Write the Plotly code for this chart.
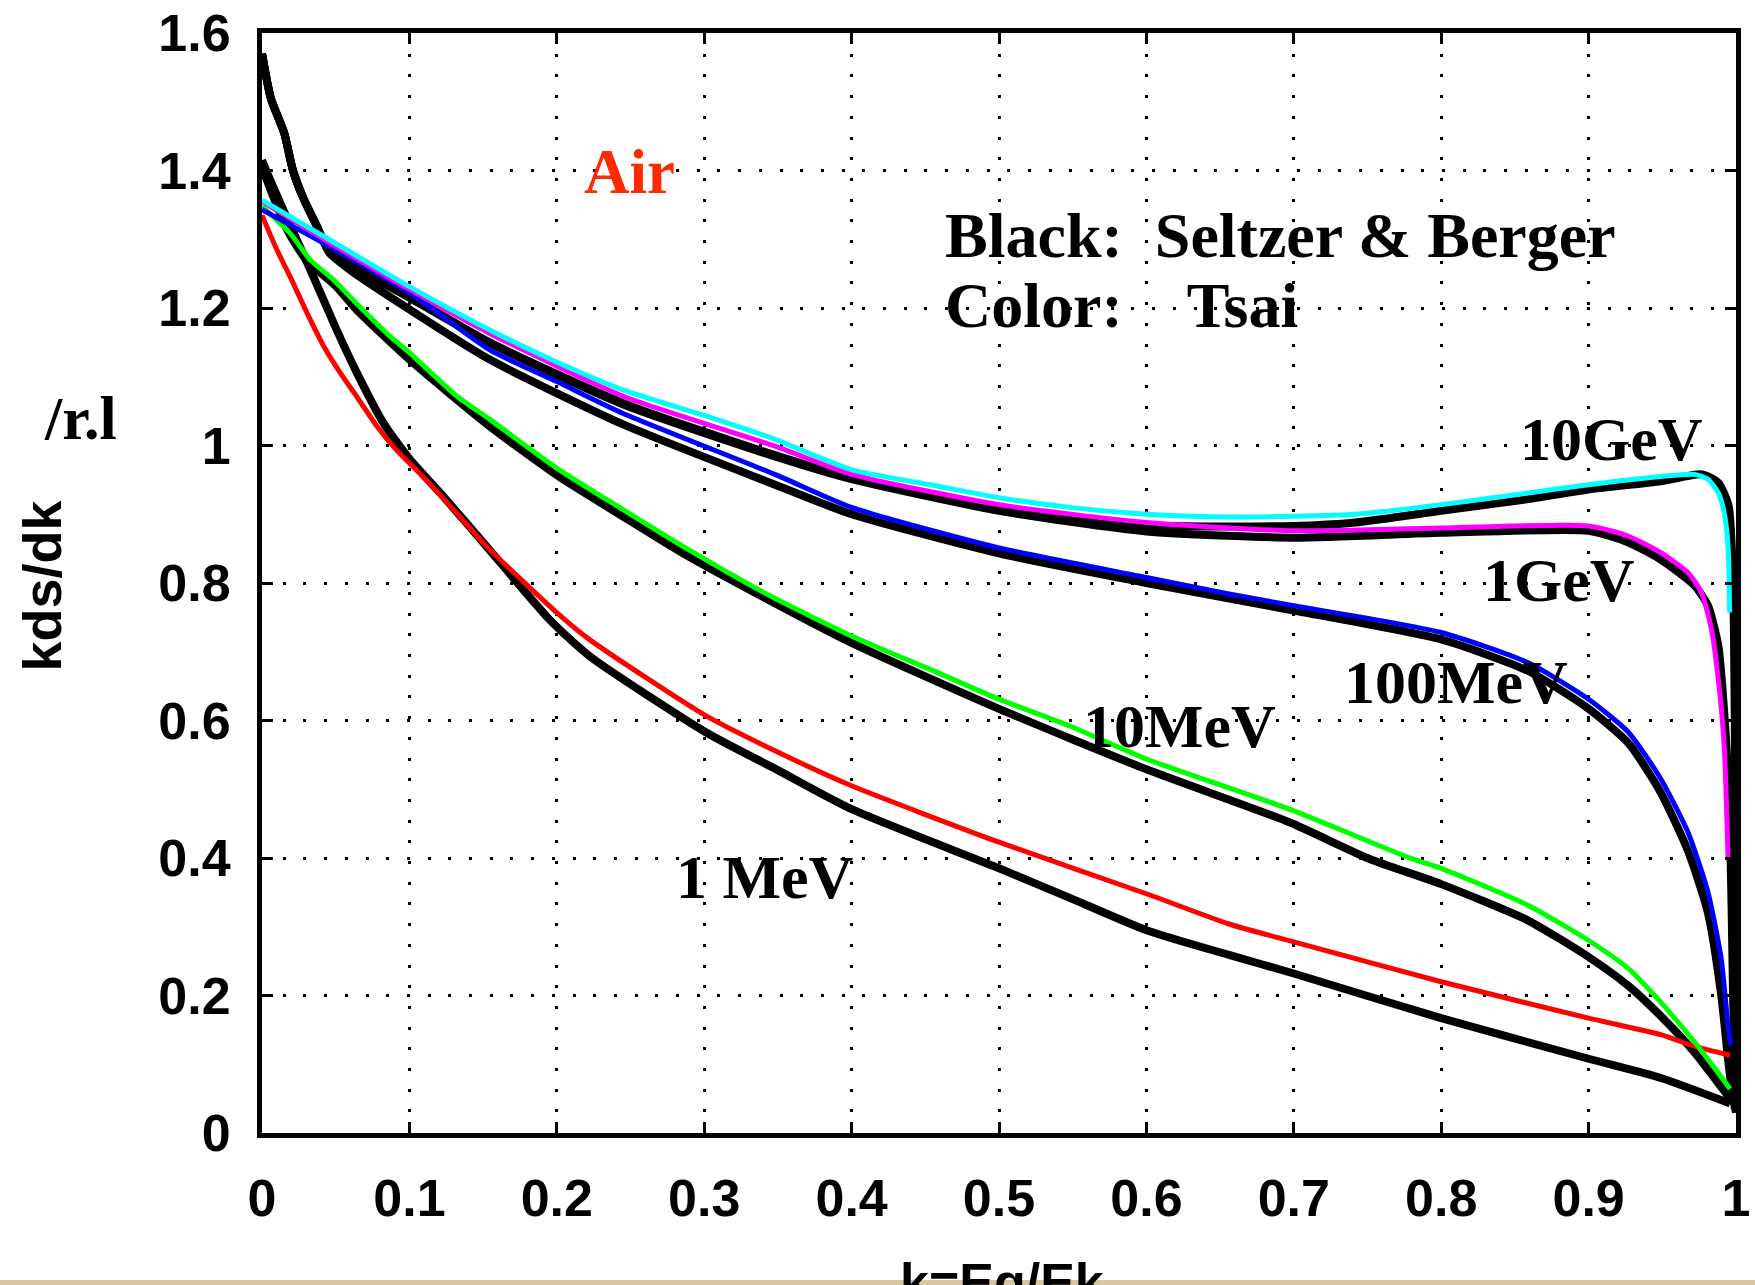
import plotly.graph_objects as go

# ---------------- data ----------------
x_ticks = [0, 0.1, 0.2, 0.3, 0.4, 0.5, 0.6, 0.7, 0.8, 0.9, 1]
x_ticktext = ["0", "0.1", "0.2", "0.3", "0.4", "0.5", "0.6", "0.7", "0.8", "0.9", "1"]
y_ticks = [0, 0.2, 0.4, 0.6, 0.8, 1.0, 1.2, 1.4, 1.6]
y_ticktext = ["0", "0.2", "0.4", "0.6", "0.8", "1", "1.2", "1.4", "1.6"]

# Tsai (colour) curves
k_tsai_1mev = [0, 0.010, 0.019, 0.0305, 0.042, 0.053, 0.064, 0.078, 0.091, 0.109, 0.132, 0.152,
               0.2, 0.222, 0.301, 0.348, 0.4, 0.5, 0.6, 0.656, 0.7, 0.8, 0.9, 0.949, 0.972, 0.996]
v_tsai_1mev = [1.335, 1.285, 1.246, 1.193, 1.144, 1.106, 1.072, 1.028, 0.994, 0.955, 0.902, 0.854,
               0.757, 0.718, 0.607, 0.556, 0.505, 0.423, 0.348, 0.304, 0.278, 0.220, 0.167, 0.143, 0.126, 0.113]

k_tsai_10mev = [0, 0.019, 0.0327, 0.0485, 0.064, 0.0868, 0.1, 0.132, 0.1545, 0.2014, 0.2447, 0.285,
                0.345, 0.4, 0.458, 0.5, 0.548, 0.6, 0.697, 0.78, 0.8, 0.859, 0.9, 0.927, 0.949, 0.972, 0.986, 0.996]
v_tsai_10mev = [1.348, 1.309, 1.270, 1.241, 1.207, 1.159, 1.135, 1.072, 1.038, 0.965, 0.907, 0.854,
                0.781, 0.723, 0.670, 0.631, 0.592, 0.544, 0.471, 0.399, 0.385, 0.331, 0.280, 0.239, 0.190, 0.132, 0.093, 0.064]

k_tsai_100mev = [0, 0.042, 0.1, 0.1545, 0.2, 0.2447, 0.348, 0.4, 0.5, 0.6, 0.656, 0.7, 0.8, 0.859,
                 0.9, 0.927, 0.949, 0.9675, 0.981, 0.990, 0.9946, 0.9965]
v_tsai_100mev = [1.343, 1.294, 1.222, 1.139, 1.093, 1.047, 0.958, 0.910, 0.851, 0.808, 0.784, 0.767, 0.728, 0.684,
                 0.631, 0.583, 0.515, 0.437, 0.350, 0.253, 0.156, 0.128]

k_tsai_1gev = [0, 0.042, 0.1, 0.1545, 0.2447, 0.348, 0.4, 0.5, 0.6, 0.7, 0.8, 0.9, 0.927, 0.949,
               0.9675, 0.9766, 0.9833, 0.988, 0.992, 0.9946]
v_tsai_1gev = [1.355, 1.300, 1.227, 1.163, 1.072, 0.999, 0.958, 0.914, 0.888, 0.876, 0.880, 0.883, 0.868, 0.844,
               0.815, 0.786, 0.733, 0.660, 0.563, 0.400]

k_tsai_10gev = [0, 0.042, 0.1, 0.1545, 0.2014, 0.2447, 0.301, 0.348, 0.4, 0.458, 0.5, 0.548, 0.6, 0.65,
                0.7, 0.742, 0.8, 0.859, 0.9, 0.949, 0.972, 0.981, 0.988, 0.992, 0.9946, 0.9957]
v_tsai_10gev = [1.357, 1.304, 1.231, 1.168, 1.120, 1.081, 1.043, 1.009, 0.965, 0.941, 0.924, 0.910, 0.900, 0.896,
                0.897, 0.900, 0.914, 0.931, 0.943, 0.955, 0.958, 0.951, 0.931, 0.902, 0.854, 0.757]

# Seltzer & Berger (black) curves
k_sb_1mev = [0, 0.0056, 0.019, 0.0327, 0.0507, 0.0643, 0.0823, 0.1003, 0.123, 0.152, 0.195, 0.222,
             0.301, 0.348, 0.4, 0.5, 0.548, 0.6, 0.656, 0.7, 0.8, 0.9, 0.949, 0.996]
v_sb_1mev = [1.415, 1.386, 1.321, 1.256, 1.168, 1.106, 1.033, 0.980, 0.926, 0.854, 0.747, 0.694,
             0.583, 0.530, 0.471, 0.385, 0.342, 0.295, 0.259, 0.232, 0.167, 0.108, 0.080, 0.043]

k_sb_10mev = [0, 0.008, 0.018, 0.03, 0.05, 0.064, 0.1, 0.1545, 0.2014, 0.2447, 0.285, 0.345, 0.4,
              0.5, 0.6, 0.697, 0.751, 0.8, 0.859, 0.9, 0.927, 0.949, 0.972, 0.986, 0.996]
v_sb_10mev = [1.405, 1.36, 1.31, 1.27, 1.232, 1.198, 1.125, 1.028, 0.955, 0.897, 0.844, 0.774, 0.713,
              0.617, 0.529, 0.452, 0.399, 0.362, 0.309, 0.256, 0.214, 0.170, 0.117, 0.078, 0.050]

k_sb_100mev = [0, 0.006, 0.015, 0.021, 0.028, 0.037, 0.046, 0.06, 0.1, 0.1545, 0.2447, 0.348, 0.4,
               0.5, 0.6, 0.7, 0.8, 0.859, 0.9, 0.927, 0.949, 0.9675, 0.981, 0.990, 0.995, 0.998, 1.0]
v_sb_100mev = [1.57, 1.505, 1.455, 1.40, 1.36, 1.32, 1.28, 1.255, 1.198, 1.125, 1.031, 0.943, 0.900,
               0.843, 0.800, 0.760, 0.718, 0.672, 0.617, 0.567, 0.495, 0.41, 0.32, 0.20, 0.10, 0.05, 0.03]

k_sb_1gev = [0, 0.006, 0.015, 0.021, 0.028, 0.037, 0.046, 0.06, 0.1, 0.1545, 0.2447, 0.348, 0.4,
             0.5, 0.6, 0.7, 0.8, 0.9, 0.927, 0.949, 0.972, 0.981, 0.988, 0.992, 0.9957, 0.998, 1.0]
v_sb_1gev = [1.57, 1.505, 1.455, 1.40, 1.36, 1.32, 1.28, 1.262, 1.215, 1.149, 1.060, 0.984, 0.951,
             0.905, 0.875, 0.866, 0.873, 0.876, 0.859, 0.834, 0.796, 0.767, 0.709, 0.612, 0.467, 0.2, 0.03]

k_sb_10gev = [0, 0.006, 0.015, 0.021, 0.028, 0.037, 0.046, 0.06, 0.1, 0.1545, 0.2447, 0.348, 0.4,
              0.5, 0.6, 0.7, 0.742, 0.8, 0.859, 0.9, 0.949, 0.977, 0.988, 0.995, 0.998, 0.9995, 1.0]
v_sb_10gev = [1.57, 1.505, 1.455, 1.40, 1.36, 1.32, 1.28, 1.262, 1.217, 1.150, 1.062, 0.986, 0.953,
              0.908, 0.884, 0.883, 0.888, 0.905, 0.922, 0.936, 0.948, 0.958, 0.946, 0.912, 0.80, 0.5, 0.03]

black_series = [
    ("S&B 1 MeV", k_sb_1mev, v_sb_1mev),
    ("S&B 10 MeV", k_sb_10mev, v_sb_10mev),
    ("S&B 100 MeV", k_sb_100mev, v_sb_100mev),
    ("S&B 1 GeV", k_sb_1gev, v_sb_1gev),
    ("S&B 10 GeV", k_sb_10gev, v_sb_10gev),
]
colour_series = [
    ("Tsai 1 MeV", k_tsai_1mev, v_tsai_1mev, "#ff0000"),
    ("Tsai 10 MeV", k_tsai_10mev, v_tsai_10mev, "#00ff00"),
    ("Tsai 100 MeV", k_tsai_100mev, v_tsai_100mev, "#0000ff"),
    ("Tsai 1 GeV", k_tsai_1gev, v_tsai_1gev, "#ff00ff"),
    ("Tsai 10 GeV", k_tsai_10gev, v_tsai_10gev, "#00ffff"),
]

# ---------------- figure ----------------
fig = go.Figure()
for name, kx, vy in black_series:
    fig.add_trace(go.Scatter(x=kx, y=vy, mode="lines", name=name,
                             line=dict(color="black", width=8, shape="spline", smoothing=0.6),
                             showlegend=False))
for name, kx, vy, col in colour_series:
    fig.add_trace(go.Scatter(x=kx, y=vy, mode="lines", name=name,
                             line=dict(color=col, width=5, shape="spline", smoothing=0.6),
                             showlegend=False))

SANS = "Liberation Sans, Arial, sans-serif"
SERIF = "Liberation Serif, Times New Roman, serif"

axis_common = dict(
    automargin=False,
    showline=True, linecolor="black", linewidth=5, mirror="ticks",
    ticks="inside", ticklen=11, tickwidth=3, tickcolor="black",
    showgrid=True, gridcolor="black", gridwidth=3, griddash="3px,17.7px",
    zeroline=False,
    tickfont=dict(family=SANS, size=52, color="black", weight="bold"),
)

fig.update_xaxes(range=[0, 1], tickvals=x_ticks, ticktext=x_ticktext,
                 ticklabelstandoff=16, **axis_common)
fig.update_yaxes(range=[0, 1.6], tickvals=y_ticks, ticktext=y_ticktext,
                 ticklabelstandoff=16, **axis_common)

annotations = [
    dict(text="Air", x=0.249, y=1.398, xref="x", yref="y", showarrow=False,
         font=dict(family=SERIF, size=63, color="#ff2a00", weight="bold")),
    dict(text="Black:\u00a0\u00a0Seltzer & Berger", x=0.462, y=1.305, xref="x", yref="y",
         xanchor="left", showarrow=False,
         font=dict(family=SERIF, size=64, color="black", weight="bold")),
    dict(text="Color:\u00a0\u00a0\u00a0\u00a0Tsai", x=0.462, y=1.203, xref="x", yref="y",
         xanchor="left", showarrow=False,
         font=dict(family=SERIF, size=64, color="black", weight="bold")),
    dict(text="10GeV", x=0.9155, y=1.009, xref="x", yref="y", showarrow=False,
         font=dict(family=SERIF, size=62, color="black", weight="bold")),
    dict(text="1GeV", x=0.8796, y=0.805, xref="x", yref="y", showarrow=False,
         font=dict(family=SERIF, size=62, color="black", weight="bold")),
    dict(text="100MeV", x=0.810, y=0.656, xref="x", yref="y", showarrow=False,
         font=dict(family=SERIF, size=62, color="black", weight="bold")),
    dict(text="10MeV", x=0.6225, y=0.592, xref="x", yref="y", showarrow=False,
         font=dict(family=SERIF, size=62, color="black", weight="bold")),
    dict(text="1 MeV", x=0.341, y=0.373, xref="x", yref="y", showarrow=False,
         font=dict(family=SERIF, size=62, color="black", weight="bold")),
    dict(text="/r.l", x=-0.123, y=0.650, xref="paper", yref="paper", showarrow=False,
         xanchor="center", yanchor="middle",
         font=dict(family=SERIF, size=62, color="black", weight="bold")),
    dict(text="kds/dk", x=-0.149, y=0.498, xref="paper", yref="paper", showarrow=False,
         xanchor="center", yanchor="middle",
         textangle=-90, font=dict(family=SANS, size=54, color="black", weight="bold")),
    dict(text="k=Eg/Ek", x=0.502, y=-0.107, xref="paper", yref="paper", showarrow=False,
         xanchor="center", yanchor="top",
         font=dict(family=SANS, size=52, color="black", weight="bold")),
]

fig.update_layout(
    width=1755, height=1285,
    margin=dict(l=262, r=19, t=33, b=152, autoexpand=False),
    paper_bgcolor="white", plot_bgcolor="white",
    annotations=annotations,
    shapes=[dict(type="rect", xref="paper", yref="paper", x0=-0.2, x1=1.02,
                 y0=(1133 - 1280) / 1100, y1=(1133 - 1295) / 1100,
                 fillcolor="#d6c6a4", line=dict(width=0), layer="above")],
)

fig.write_html("out.html")
